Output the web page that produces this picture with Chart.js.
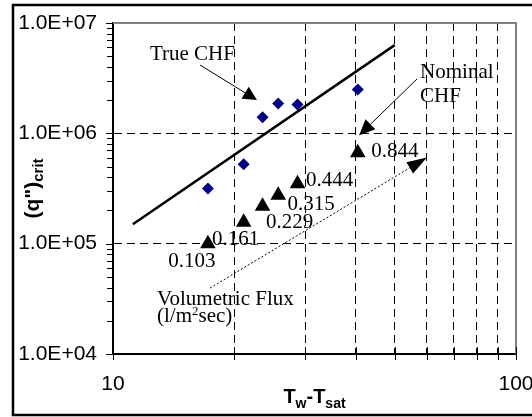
<!DOCTYPE html>
<html><head><meta charset="utf-8">
<script src="https://cdn.jsdelivr.net/npm/chart.js@4/dist/chart.umd.min.js"></script>
<style>html,body{margin:0;padding:0;background:#fff}#wrap{width:532px;height:417px}</style>
</head><body><div id="wrap"><canvas id="c" width="532" height="417"></canvas></div>
<script>
// ---- data ----
const deltaT      = [17.2, 21.1, 23.5, 25.7, 28.7, 40.5];          // Tw - Tsat
const trueCHF     = [3.17e5, 5.24e5, 1.40e6, 1.86e6, 1.83e6, 2.50e6]; // diamonds
const nominalCHF  = [1.00e5, 1.56e5, 2.18e5, 2.75e5, 3.49e5, 6.67e5]; // triangles
const volFlux     = ['0.103', '0.161', '0.229', '0.315', '0.444', '0.844'];
const fitX        = [11.2, 50];
const fitY        = [1.5e5, 6.3e6];
const xTicks      = [10, 20, 30, 40, 50, 60, 70, 80, 90, 100];
const xTickLabels = ['10', '', '', '', '', '', '', '', '', '100'];
const yMajor      = [1e4, 1e5, 1e6, 1e7];
const yTickLabels = ['1.0E+04', '1.0E+05', '1.0E+06', '1.0E+07'];

// annotation anchors in data coordinates
const annTrue   = {text: [12.35, 4.62e6], from: [16.44, 4.16e6], to: [22.77, 2.00e6]};
const annNom    = {line1: [57.8, 3.17e6], line2: [57.8, 1.92e6], from: [56.8, 3.11e6], to: [40.77, 9.56e5]};
const annVol    = {line1: [12.86, 2.78e4], line2: [12.86, 1.95e4], from: [17.41, 3.96e4], to: [60.1, 6.04e5]};

// label offsets (pixels, relative to triangle centre) - style only
const labelOffsets = [[-16, 16], [-8, 16], [27, 15], [33, 8], [32, -5], [37, -3]];

const yTicks = [];
for (let k = 0; k < 3; k++) for (let m = 1; m <= 9; m++) yTicks.push(yMajor[k] * m);
yTicks.push(yMajor[3]);

const SERIF = '"Liberation Serif", "Times New Roman", serif';
const SANS  = '"Liberation Sans", Arial, sans-serif';

function arrow(ctx, x1, y1, x2, y2, len, wid, dash) {
  const dx = x2 - x1, dy = y2 - y1, L = Math.hypot(dx, dy);
  const ux = dx / L, uy = dy / L;
  const bx = x2 - ux * len, by = y2 - uy * len;
  ctx.save();
  ctx.strokeStyle = '#000'; ctx.lineWidth = 1;
  if (dash) ctx.setLineDash(dash);
  ctx.beginPath(); ctx.moveTo(x1, y1); ctx.lineTo(bx, by); ctx.stroke();
  ctx.setLineDash([]);
  ctx.fillStyle = '#000';
  ctx.beginPath();
  ctx.moveTo(x2, y2);
  ctx.lineTo(bx - uy * wid / 2, by + ux * wid / 2);
  ctx.lineTo(bx + uy * wid / 2, by - ux * wid / 2);
  ctx.closePath(); ctx.fill();
  ctx.restore();
}

const deco = {
  id: 'deco',
  beforeDraw(chart) {
    const ctx = chart.ctx;
    ctx.save(); ctx.fillStyle = '#fff'; ctx.fillRect(0, 0, chart.width, chart.height); ctx.restore();
  },
  afterDraw(chart) {
    const {ctx, chartArea: a, scales: {x, y}} = chart;
    const P = (v) => [x.getPixelForValue(v[0]), y.getPixelForValue(v[1])];
    ctx.save();
    // grey plot-area frame (top/right)
    ctx.strokeStyle = '#808080'; ctx.lineWidth = 2;
    ctx.beginPath(); ctx.moveTo(a.left, a.top); ctx.lineTo(a.right, a.top); ctx.lineTo(a.right, a.bottom); ctx.stroke();
    // x tick marks crossing axis
    ctx.strokeStyle = '#000'; ctx.lineWidth = 1;
    xTicks.forEach(v => {
      const px = Math.round(x.getPixelForValue(v)) + 0.5;
      ctx.beginPath(); ctx.moveTo(px, a.bottom - 7); ctx.lineTo(px, a.bottom + 6); ctx.stroke();
    });
    // y tick marks
    yTicks.forEach(v => {
      const py = Math.round(y.getPixelForValue(v)) + 0.5;
      const major = yMajor.includes(v);
      ctx.beginPath(); ctx.moveTo(a.left - (major ? 7 : 6), py); ctx.lineTo(a.left, py); ctx.stroke();
    });
    // outer frame
    ctx.lineWidth = 2.5; ctx.strokeStyle = '#000';
    ctx.strokeRect(13, 5, 540, 410);

    // volumetric flux labels
    ctx.fillStyle = '#000';
    ctx.font = '21px ' + SERIF; ctx.textAlign = 'center'; ctx.textBaseline = 'alphabetic';
    volFlux.forEach((t, i) => {
      const px = x.getPixelForValue(deltaT[i]), py = y.getPixelForValue(nominalCHF[i]);
      ctx.fillText(t, px + labelOffsets[i][0], py + labelOffsets[i][1] + 7);
    });

    // annotations
    ctx.textAlign = 'left';
    let p = P(annTrue.text); ctx.fillText('True CHF', p[0], p[1]);
    let f = P(annTrue.from), t = P(annTrue.to); arrow(ctx, f[0], f[1], t[0], t[1], 14, 14);
    p = P(annNom.line1); ctx.fillText('Nominal', p[0], p[1]);
    p = P(annNom.line2); ctx.fillText('CHF', p[0], p[1]);
    f = P(annNom.from); t = P(annNom.to); arrow(ctx, f[0], f[1], t[0], t[1], 16, 14);
    p = P(annVol.line1); ctx.fillText('Volumetric Flux', p[0], p[1]);
    p = P(annVol.line2);
    let cx = p[0];
    ctx.fillText('(l/m', cx, p[1]); cx += ctx.measureText('(l/m').width;
    ctx.font = '13px ' + SERIF; ctx.fillText('2', cx, p[1] - 7); cx += ctx.measureText('2').width;
    ctx.font = '21px ' + SERIF; ctx.fillText('sec)', cx, p[1]);
    f = P(annVol.from); t = P(annVol.to); arrow(ctx, f[0], f[1], t[0], t[1], 20, 13, [2, 2]);

    // axis titles
    // x: Tw-Tsat
    const parts = [['T', 20, 0], ['w', 14, 5], ['-T', 20, 0], ['sat', 14, 5]];
    let w = 0;
    parts.forEach(q => { ctx.font = 'bold ' + q[1] + 'px ' + SANS; w += ctx.measureText(q[0]).width; });
    cx = (a.left + a.right) / 2 - w / 2;
    parts.forEach(q => { ctx.font = 'bold ' + q[1] + 'px ' + SANS; ctx.fillText(q[0], cx, 403 + q[2]); cx += ctx.measureText(q[0]).width; });
    // y: (q")crit
    const yparts = [['(q")', 21, 0], ['crit', 15, 4]];
    w = 0;
    yparts.forEach(q => { ctx.font = 'bold ' + q[1] + 'px ' + SANS; w += ctx.measureText(q[0]).width; });
    ctx.translate(38.5, (a.top + a.bottom) / 2);
    ctx.rotate(-Math.PI / 2);
    cx = -w / 2;
    yparts.forEach(q => { ctx.font = 'bold ' + q[1] + 'px ' + SANS; ctx.fillText(q[0], cx, q[2]); cx += ctx.measureText(q[0]).width; });
    ctx.restore();
  }
};

new Chart(document.getElementById('c'), {
  data: {
    datasets: [
      {type: 'scatter', label: 'True CHF', data: deltaT.map((v, i) => ({x: v, y: trueCHF[i]})),
       pointStyle: 'rectRot', pointRadius: 6, backgroundColor: '#000080', borderColor: '#000080', borderWidth: 0},
      {type: 'scatter', label: 'Nominal CHF', data: deltaT.map((v, i) => ({x: v, y: nominalCHF[i]})),
       pointStyle: 'triangle', pointRadius: 9, backgroundColor: '#000', borderColor: '#000', borderWidth: 0},
      {type: 'line', label: 'fit', data: fitX.map((v, i) => ({x: v, y: fitY[i]})),
       borderColor: '#000', borderWidth: 2.5, pointRadius: 0, fill: false}
    ]
  },
  options: {
    responsive: false, animation: false, devicePixelRatio: 1,
    layout: {padding: {left: 0, top: 23, right: 16, bottom: 0}},
    plugins: {legend: {display: false}, tooltip: {enabled: false}},
    scales: {
      x: {
        type: 'logarithmic', min: 10, max: 100,
        afterBuildTicks: s => { s.ticks = xTicks.map(v => ({value: v})); },
        afterFit: s => { s.height = 63; s.paddingLeft = 0; s.paddingRight = 0; },
        ticks: {autoSkip: false, maxRotation: 0, minRotation: 0, padding: 18, color: '#000',
                font: {family: SANS, size: 21}, callback: (v, i) => xTickLabels[i] || ''},
        grid: {drawTicks: false, lineWidth: 1,
               color: c => (c.tick && (c.tick.value === 10 || c.tick.value === 100)) ? 'rgba(0,0,0,0)' : '#000'},
        border: {display: true, color: '#000', width: 2, dash: [8, 5]}
      },
      y: {
        type: 'logarithmic', min: 1e4, max: 1e7,
        afterBuildTicks: s => { s.ticks = yTicks.map(v => ({value: v})); },
        afterFit: s => { s.width = 113; s.paddingTop = 0; s.paddingBottom = 0; },
        ticks: {autoSkip: false, padding: 16, color: '#000', font: {family: SANS, size: 21},
                callback: (v) => { const k = yMajor.indexOf(v); return k >= 0 ? yTickLabels[k] : ''; }},
        grid: {drawTicks: false, lineWidth: 1,
               color: c => (c.tick && (c.tick.value === 1e5 || c.tick.value === 1e6)) ? '#000' : 'rgba(0,0,0,0)'},
        border: {display: true, color: '#000', width: 2, dash: [8, 5]}
      }
    }
  },
  plugins: [deco]
});
</script>
</body></html>
